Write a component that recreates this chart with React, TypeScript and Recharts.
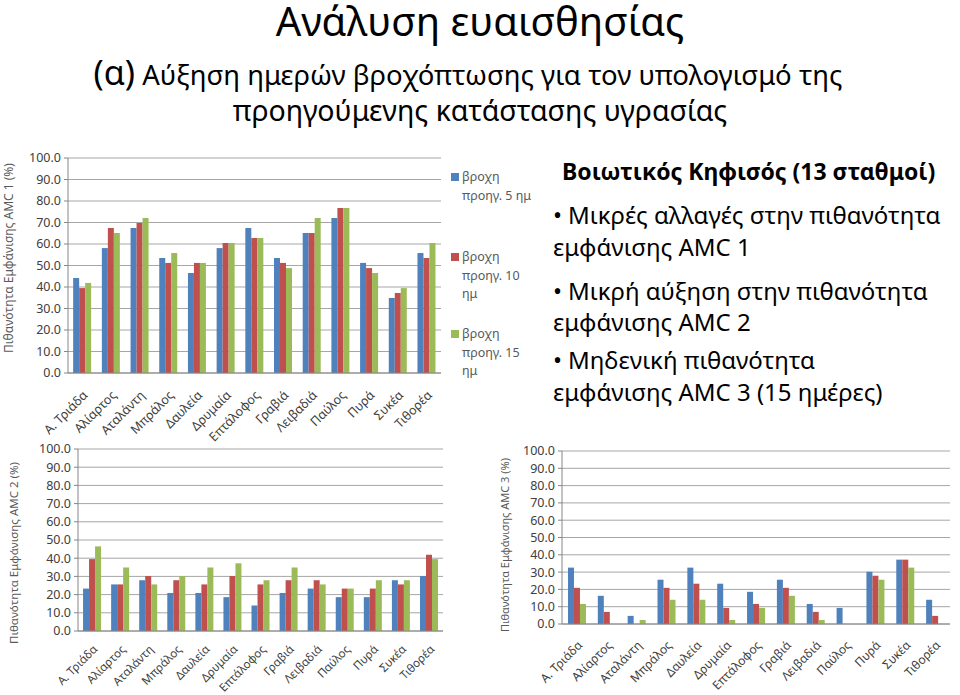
import { Bar, BarChart, CartesianGrid, Legend, XAxis, YAxis } from 'recharts'

const FONT = '"Noto Sans", "Open Sans", sans-serif'
const BLUE = '#4F81BD'
const RED = '#C0504D'
const GREEN = '#9BBB59'

const stations = [
  'Α. Τριάδα', 'Αλίαρτος', 'Αταλάντη', 'Μπράλος', 'Δαυλεία', 'Δρυμαία', 'Επτάλοφος',
  'Γραβιά', 'Λειβαδιά', 'Παύλος', 'Πυρά', 'Συκέα', 'Τιθορέα',
]

const seriesNames = ['βροχη προηγ. 5 ημ', 'βροχη προηγ. 10 ημ', 'βροχη προηγ. 15 ημ']
const legendLines = [['βροχη', 'προηγ. 5 ημ'], ['βροχη', 'προηγ. 10', 'ημ'], ['βροχη', 'προηγ. 15', 'ημ']]
const seriesColors = [BLUE, RED, GREEN]

// AMC 1 probability (%)
const amc1Days5 = [44.2, 58.1, 67.4, 53.5, 46.5, 58.1, 67.4, 53.5, 65.1, 72.1, 51.2, 34.9, 55.8]
const amc1Days10 = [39.5, 67.4, 69.8, 51.2, 51.2, 60.5, 62.8, 51.2, 65.1, 76.7, 48.8, 37.2, 53.5]
const amc1Days15 = [41.9, 65.1, 72.1, 55.8, 51.2, 60.5, 62.8, 48.8, 72.1, 76.7, 46.5, 39.5, 60.5]

// AMC 2 probability (%)
const amc2Days5 = [23.3, 25.6, 27.9, 20.9, 20.9, 18.6, 14.0, 20.9, 23.3, 18.6, 18.6, 27.9, 30.2]
const amc2Days10 = [39.5, 25.6, 30.2, 27.9, 25.6, 30.2, 25.6, 27.9, 27.9, 23.3, 23.3, 25.6, 41.9]
const amc2Days15 = [46.5, 34.9, 25.6, 30.2, 34.9, 37.2, 27.9, 34.9, 25.6, 23.3, 27.9, 27.9, 39.5]

// AMC 3 probability (%)
const amc3Days5 = [32.6, 16.3, 4.7, 25.6, 32.6, 23.3, 18.6, 25.6, 11.6, 9.3, 30.2, 37.2, 14.0]
const amc3Days10 = [20.9, 7.0, 0, 20.9, 23.3, 9.3, 11.6, 20.9, 7.0, 0, 27.9, 37.2, 4.7]
const amc3Days15 = [11.6, 0, 2.3, 14.0, 14.0, 2.3, 9.3, 16.3, 2.3, 0, 25.6, 32.6, 0]

const yTicks = [0, 10, 20, 30, 40, 50, 60, 70, 80, 90, 100]

function buildRows(d5: number[], d10: number[], d15: number[]) {
  return stations.map((station, i) => ({ station, d5: d5[i], d10: d10[i], d15: d15[i] }))
}

const seriesKeys = ['d5', 'd10', 'd15']

function StationTick({ x, y, payload, size = 12.5, drop = 15 }: any) {
  const ex = x + 6
  const ey = y + drop
  return (
    <text
      x={ex}
      y={ey}
      transform={`rotate(-45 ${ex} ${ey})`}
      textAnchor="end"
      fill="#404040"
      fontSize={size}
      fontFamily={FONT}
    >
      {payload.value}
    </text>
  )
}

function RainLegend() {
  const tops = [0, 80, 157]
  return (
    <div style={{ position: 'relative', fontFamily: FONT, fontSize: 12.5, color: '#595959', lineHeight: '18.5px' }}>
      {legendLines.map((lines, i) => (
        <div key={i} style={{ position: 'absolute', left: 0, top: tops[i] }}>
          <div style={{ position: 'absolute', left: 1, top: 5, width: 8, height: 8, background: seriesColors[i] }} />
          <div style={{ marginLeft: 12 }}>
            {lines.map((l) => (
              <div key={l} style={{ whiteSpace: 'nowrap' }}>{l}</div>
            ))}
          </div>
        </div>
      ))}
    </div>
  )
}

type PanelProps = {
  rows: any[]
  yLabel: string
  width: number
  height: number
  plotLeft: number
  plotTop: number
  plotRight: number
  plotBottom: number
  xHeight: number
  gap: string
  labelX: number
  labelY: number
  labelSize: number
  tickSize: number
  tickDrop: number
  legend?: boolean
}

function Panel(p: PanelProps) {
  return (
    <BarChart
      width={p.width}
      height={p.height}
      data={p.rows}
      margin={{ top: p.plotTop, right: p.plotRight, bottom: p.plotBottom, left: 0 }}
      barGap={0}
      barCategoryGap={p.gap}
      style={{ overflow: 'visible' }}
    >
      <CartesianGrid vertical={false} stroke="#A6A6A6" />
      <XAxis
        dataKey="station"
        height={p.xHeight}
        interval={0}
        tickLine={false}
        axisLine={{ stroke: '#868686' }}
        tick={<StationTick size={p.tickSize} drop={p.tickDrop} />}
      />
      <YAxis
        width={p.plotLeft}
        domain={[0, 100]}
        ticks={yTicks}
        interval={0}
        tickFormatter={(v: number) => v.toFixed(1)}
        axisLine={{ stroke: '#868686' }}
        tickLine={{ stroke: '#868686' }}
        tickSize={4}
        tickMargin={3}
        tick={{ fill: '#404040', fontSize: 12.5, fontFamily: FONT }}
        label={() => (
          <text
            x={p.labelX}
            y={p.labelY}
            transform={`rotate(-90 ${p.labelX} ${p.labelY})`}
            textAnchor="middle"
            fill="#595959"
            fontSize={p.labelSize}
            fontFamily={FONT}
          >
            {p.yLabel}
          </text>
        )}
      />
      {seriesKeys.map((k, i) => (
        <Bar key={k} dataKey={k} name={seriesNames[i]} fill={seriesColors[i]} isAnimationActive={false} />
      ))}
      {p.legend && (
        <Legend
          layout="vertical"
          align="center"
          verticalAlign="middle"
          content={<RainLegend />}
          wrapperStyle={{ left: 450, top: 20, width: 95, height: 230 }}
        />
      )}
    </BarChart>
  )
}

const line = (top: number, left: number, size: number, text: string, extra: any = {}) => (
  <div
    style={{
      position: 'absolute',
      top,
      left,
      fontSize: size,
      lineHeight: `${size + 8}px`,
      whiteSpace: 'nowrap',
      ...extra,
    }}
  >
    {text}
  </div>
)

export default function App() {
  return (
    <div
      style={{
        position: 'absolute',
        left: 0,
        top: 0,
        width: 960,
        height: 695,
        background: '#fff',
        fontFamily: FONT,
        color: '#000',
        overflow: 'hidden',
      }}
    >
      <div style={{ position: 'absolute', top: 0, left: 0, width: 960, textAlign: 'center', fontSize: 40, lineHeight: '42px' }}>
        Ανάλυση ευαισθησίας
      </div>
      <div style={{ position: 'absolute', top: 53, left: -12, width: 960, textAlign: 'center', fontSize: 27.5, lineHeight: '38px' }}>
        <span style={{ fontSize: 34 }}>(α)</span> Αύξηση ημερών βροχόπτωσης για τον υπολογισμό της
      </div>
      <div style={{ position: 'absolute', top: 91, left: 0, width: 960, textAlign: 'center', fontSize: 28.5, lineHeight: '38px' }}>
        προηγούμενης κατάστασης υγρασίας
      </div>

      <div style={{ position: 'absolute', left: 0, top: 148 }}>
        <Panel
          rows={buildRows(amc1Days5, amc1Days10, amc1Days15)}
          yLabel="Πιθανότητα Εμφάνισης AMC 1 (%)"
          width={550}
          height={300}
          plotLeft={68}
          plotTop={10}
          plotRight={109}
          plotBottom={10}
          xHeight={65}
          gap="18%"
          labelX={13}
          labelY={110}
          labelSize={12}
          tickSize={12.5}
          tickDrop={15}
          legend
        />
      </div>

      {line(156, 562, 23, 'Βοιωτικός Κηφισός (13 σταθμοί)', { fontWeight: 700 })}
      {line(199, 553, 24, '•')}
      {line(199, 568, 24, 'Μικρές αλλαγές στην πιθανότητα')}
      {line(231, 553, 24, 'εμφάνισης AMC 1')}
      {line(275, 553, 24, '•')}
      {line(275, 568, 24, 'Μικρή αύξηση στην πιθανότητα')}
      {line(306, 553, 24, 'εμφάνισης AMC 2')}
      {line(344, 553, 24, '•')}
      {line(344, 568, 24, 'Μηδενική πιθανότητα')}
      {line(376, 553, 24, 'εμφάνισης AMC 3 (15 ημέρες)')}

      <div style={{ position: 'absolute', left: 0, top: 440 }}>
        <Panel
          rows={buildRows(amc2Days5, amc2Days10, amc2Days15)}
          yLabel="Πιθανότητα Εμφάνισης AMC 2 (%)"
          width={450}
          height={255}
          plotLeft={78}
          plotTop={9}
          plotRight={7}
          plotBottom={0}
          xHeight={64}
          gap="18%"
          labelX={18}
          labelY={113}
          labelSize={11.5}
          tickSize={11.5}
          tickDrop={11}
        />
      </div>

      <div style={{ position: 'absolute', left: 490, top: 440 }}>
        <Panel
          rows={buildRows(amc3Days5, amc3Days10, amc3Days15)}
          yLabel="Πιθανότητα Εμφάνισης AMC 3 (%)"
          width={470}
          height={255}
          plotLeft={72}
          plotTop={11}
          plotRight={10}
          plotBottom={0}
          xHeight={71}
          gap="20%"
          labelX={19}
          labelY={105}
          labelSize={11}
          tickSize={12}
          tickDrop={14}
        />
      </div>
    </div>
  )
}
